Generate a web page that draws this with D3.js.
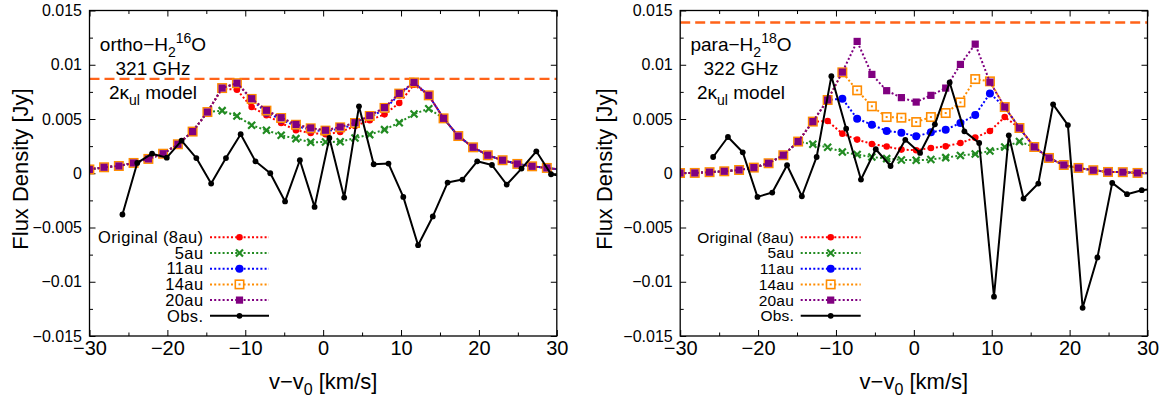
<!DOCTYPE html>
<html>
<head>
<meta charset="utf-8">
<script src="https://cdn.jsdelivr.net/npm/d3@7"></script>
<style>
  body { margin: 0; background: #fff; }
  svg { display: block; font-family: "Liberation Sans", Arial, Helvetica, sans-serif; }
</style>
</head>
<body>
<svg id="chart" width="1167" height="400"></svg>
<script>
// Velocity grid of the model spectra (km/s)
const modelVelocity = [-30.02, -28.13, -26.23, -24.34, -22.44, -20.55, -18.65, -16.76, -14.86, -12.97,
  -11.07, -9.18, -7.28, -5.39, -3.49, -1.60, 0.30, 2.19, 4.09, 5.98, 7.88, 9.77, 11.67, 13.56,
  15.46, 17.35, 19.25, 21.14, 23.04, 24.93, 26.83, 28.72, 30.62];

// Velocity grid of the observed spectra (km/s)
const obsVelocity = [-25.77, -23.87, -21.97, -20.08, -18.18, -16.28, -14.38, -12.48, -10.59, -8.69,
  -6.79, -4.89, -2.99, -1.10, 0.80, 2.70, 4.60, 6.49, 8.39, 10.29, 12.19, 14.08, 15.98, 17.88,
  19.78, 21.67, 23.57, 25.47, 27.37, 29.26, 31.16];

// ortho-H2 16O 321 GHz, model flux density (Jy)
const orthoOriginal = [0.00035, 0.00055, 0.00067, 0.00095, 0.00132, 0.00180, 0.00267, 0.00384, 0.00564, 0.00780,
  0.00770, 0.00610, 0.00534, 0.00463, 0.00396, 0.00372, 0.00359, 0.00380, 0.00435, 0.00488, 0.00543, 0.00647,
  0.00816, 0.00718, 0.00506, 0.00343, 0.00239, 0.00166, 0.00120, 0.00086, 0.00064, 0.00049, 0.00032];
const ortho5au = [0.00035, 0.00055, 0.00067, 0.00095, 0.00132, 0.00180, 0.00267, 0.00384, 0.00564, 0.00577,
  0.00527, 0.00442, 0.00396, 0.00350, 0.00319, 0.00285, 0.00288, 0.00290, 0.00325, 0.00356, 0.00402, 0.00466,
  0.00546, 0.00595, 0.00506, 0.00343, 0.00239, 0.00166, 0.00120, 0.00086, 0.00064, 0.00049, 0.00032];
const ortho11au = [0.00035, 0.00055, 0.00067, 0.00095, 0.00132, 0.00180, 0.00267, 0.00384, 0.00564, 0.00785,
  0.00830, 0.00680, 0.00560, 0.00495, 0.00435, 0.00403, 0.00384, 0.00412, 0.00452, 0.00516, 0.00590, 0.00725,
  0.00835, 0.00718, 0.00506, 0.00343, 0.00239, 0.00166, 0.00120, 0.00086, 0.00064, 0.00049, 0.00032];
const ortho14au = [0.00035, 0.00055, 0.00067, 0.00095, 0.00132, 0.00180, 0.00267, 0.00384, 0.00564, 0.00785,
  0.00830, 0.00685, 0.00577, 0.00509, 0.00447, 0.00414, 0.00393, 0.00423, 0.00463, 0.00528, 0.00602, 0.00734,
  0.00837, 0.00718, 0.00506, 0.00343, 0.00239, 0.00166, 0.00120, 0.00086, 0.00064, 0.00049, 0.00032];
const ortho20au = [0.00035, 0.00055, 0.00067, 0.00095, 0.00132, 0.00180, 0.00267, 0.00384, 0.00564, 0.00785,
  0.00830, 0.00687, 0.00580, 0.00512, 0.00450, 0.00417, 0.00396, 0.00426, 0.00466, 0.00531, 0.00605, 0.00736,
  0.00837, 0.00718, 0.00506, 0.00343, 0.00239, 0.00166, 0.00120, 0.00086, 0.00064, 0.00049, 0.00032];
const orthoObs = [-0.00380, 0.00095, 0.00180, 0.00144, 0.00300, 0.00140, -0.00095, 0.00140, 0.00360, 0.00110,
  0.00000, -0.00260, 0.00120, -0.00310, 0.00325, -0.00224, 0.00617, 0.00083, 0.00089, -0.00218, -0.00663,
  -0.00398, -0.00086, -0.00058, 0.00110, 0.00076, -0.00104, 0.00043, 0.00202, -0.00009, -0.00030];
const orthoLimit = 0.0087;

// para-H2 18O 322 GHz, model flux density (Jy)
const paraOriginal = [0.00002, 0.00003, 0.00010, 0.00018, 0.00030, 0.00052, 0.00092, 0.00166, 0.00292, 0.00476,
  0.00481, 0.00365, 0.00310, 0.00270, 0.00246, 0.00218, 0.00212, 0.00233, 0.00248, 0.00279, 0.00328, 0.00389,
  0.00518, 0.00417, 0.00242, 0.00141, 0.00076, 0.00049, 0.00028, 0.00012, 0.00010, 0.00003, 0.00002];
const para5au = [0.00002, 0.00003, 0.00010, 0.00018, 0.00030, 0.00052, 0.00092, 0.00166, 0.00292, 0.00267,
  0.00239, 0.00196, 0.00172, 0.00150, 0.00135, 0.00123, 0.00120, 0.00126, 0.00144, 0.00163, 0.00178, 0.00205,
  0.00242, 0.00292, 0.00242, 0.00141, 0.00076, 0.00049, 0.00028, 0.00012, 0.00010, 0.00003, 0.00002];
const para11au = [0.00002, 0.00003, 0.00010, 0.00018, 0.00030, 0.00052, 0.00092, 0.00166, 0.00292, 0.00476,
  0.00675, 0.00687, 0.00503, 0.00448, 0.00389, 0.00374, 0.00340, 0.00377, 0.00402, 0.00463, 0.00537, 0.00736,
  0.00610, 0.00417, 0.00242, 0.00141, 0.00076, 0.00049, 0.00028, 0.00012, 0.00010, 0.00003, 0.00002];
const para14au = [0.00002, 0.00003, 0.00010, 0.00018, 0.00030, 0.00052, 0.00092, 0.00166, 0.00292, 0.00476,
  0.00675, 0.00930, 0.00764, 0.00617, 0.00518, 0.00512, 0.00472, 0.00518, 0.00555, 0.00653, 0.00868, 0.00847,
  0.00610, 0.00417, 0.00242, 0.00141, 0.00076, 0.00049, 0.00028, 0.00012, 0.00010, 0.00003, 0.00002];
const para20au = [0.00002, 0.00003, 0.00010, 0.00018, 0.00030, 0.00052, 0.00092, 0.00166, 0.00292, 0.00476,
  0.00675, 0.00932, 0.01215, 0.00911, 0.00761, 0.00697, 0.00656, 0.00718, 0.00785, 0.01003, 0.01190, 0.00840,
  0.00610, 0.00417, 0.00242, 0.00141, 0.00076, 0.00049, 0.00028, 0.00012, 0.00010, 0.00003, 0.00002];
const paraObs = [0.00150, 0.00334, 0.00193, -0.00218, -0.00178, 0.00074, -0.00212, 0.00150, 0.00895, 0.00411,
  -0.00058, 0.00221, 0.00067, 0.00308, 0.00187, 0.00451, 0.00837, 0.00386, 0.00279, -0.01138, 0.00350,
  -0.00233, -0.00095, 0.00635, 0.00444, -0.01240, -0.00776, -0.00089, -0.00193, -0.00156, -0.00140];
const paraLimit = 0.0139;

// Axis ticks and labels
const xTicks = [-30, -20, -10, 0, 10, 20, 30];
const xTickLabels = ["\u221230", "\u221220", "\u221210", "0", "10", "20", "30"];
const xMinorTicks = [-25, -15, -5, 5, 15, 25];
const yTicks = [-0.015, -0.01, -0.005, 0, 0.005, 0.01, 0.015];
const yTickLabels = ["\u22120.015", "\u22120.01", "\u22120.005", "0", "0.005", "0.01", "0.015"];
const yMinorTicks = [-0.0125, -0.0075, -0.0025, 0.0025, 0.0075, 0.0125];
const legendLabels = ["Original (8au)", "5au", "11au", "14au", "20au", "Obs."];

const svg = d3.select("#chart");
const defs = svg.append("defs");

function drawMarker(sel, type, color) {
  if (type === "circleSmall") {
    sel.append("circle").attr("r", 3.3).attr("fill", color);
  } else if (type === "circle") {
    sel.append("circle").attr("r", 4).attr("fill", color);
  } else if (type === "cross") {
    sel.append("path").attr("d", "M-3.5,-3.5L3.5,3.5M-3.5,3.5L3.5,-3.5")
      .attr("stroke", color).attr("stroke-width", 2.2).attr("fill", "none");
  } else if (type === "openSquare") {
    sel.append("rect").attr("x", -4.2).attr("y", -4.2).attr("width", 8.4).attr("height", 8.4)
      .attr("fill", "#fff").attr("stroke", color).attr("stroke-width", 1.6);
    sel.append("rect").attr("x", -1).attr("y", -1).attr("width", 2).attr("height", 2).attr("fill", color);
  } else if (type === "square") {
    sel.append("rect").attr("x", -3.6).attr("y", -3.6).attr("width", 7.2).attr("height", 7.2).attr("fill", color);
  } else if (type === "obs") {
    sel.append("circle").attr("r", 2.9).attr("fill", color);
  }
}

function drawPanel(cfg) {
  const x = d3.scaleLinear().domain([-30, 30]).range([cfg.left, cfg.right]);
  const y = d3.scaleLinear().domain([-0.015, 0.015]).range([336, 10.5]);
  const g = svg.append("g");

  defs.append("clipPath").attr("id", cfg.id + "-clip").append("rect")
    .attr("x", cfg.left).attr("y", 10.5)
    .attr("width", cfg.right - cfg.left).attr("height", 336 - 10.5);

  // Inward ticks on all four sides
  const tickStyle = a => a.selectAll("line").attr("stroke", "#000").attr("stroke-width", 1);
  const bottom = g.append("g").attr("transform", `translate(0,336)`)
    .call(d3.axisBottom(x).tickValues(xTicks).tickSize(-6).tickPadding(5)
      .tickFormat((d, i) => xTickLabels[i]));
  bottom.select(".domain").remove();
  tickStyle(bottom);
  bottom.selectAll("text").attr("font-size", 20).attr("font-family", "Liberation Sans, Arial, sans-serif").attr("fill", "#000");
  const bottomMinor = g.append("g").attr("transform", `translate(0,336)`)
    .call(d3.axisBottom(x).tickValues(xMinorTicks).tickSize(-3.5).tickFormat(""));
  bottomMinor.select(".domain").remove(); tickStyle(bottomMinor);
  const top = g.append("g").attr("transform", `translate(0,10.5)`)
    .call(d3.axisTop(x).tickValues(xTicks).tickSize(-6).tickFormat(""));
  top.select(".domain").remove(); tickStyle(top);
  const topMinor = g.append("g").attr("transform", `translate(0,10.5)`)
    .call(d3.axisTop(x).tickValues(xMinorTicks).tickSize(-3.5).tickFormat(""));
  topMinor.select(".domain").remove(); tickStyle(topMinor);

  const left = g.append("g").attr("transform", `translate(${cfg.left},0)`)
    .call(d3.axisLeft(y).tickValues(yTicks).tickSize(-6).tickPadding(7.5)
      .tickFormat((d, i) => yTickLabels[i]));
  left.select(".domain").remove();
  tickStyle(left);
  left.selectAll("text").attr("font-size", 16).attr("font-family", "Liberation Sans, Arial, sans-serif").attr("fill", "#000");
  const leftMinor = g.append("g").attr("transform", `translate(${cfg.left},0)`)
    .call(d3.axisLeft(y).tickValues(yMinorTicks).tickSize(-3.5).tickFormat(""));
  leftMinor.select(".domain").remove(); tickStyle(leftMinor);
  const right = g.append("g").attr("transform", `translate(${cfg.right},0)`)
    .call(d3.axisRight(y).tickValues(yTicks).tickSize(-6).tickFormat(""));
  right.select(".domain").remove(); tickStyle(right);
  const rightMinor = g.append("g").attr("transform", `translate(${cfg.right},0)`)
    .call(d3.axisRight(y).tickValues(yMinorTicks).tickSize(-3.5).tickFormat(""));
  rightMinor.select(".domain").remove(); tickStyle(rightMinor);

  const plot = g.append("g").attr("clip-path", `url(#${cfg.id}-clip)`);

  // Reference flux level
  plot.append("line")
    .attr("x1", x(-30)).attr("x2", x(30))
    .attr("y1", y(cfg.limit)).attr("y2", y(cfg.limit))
    .attr("stroke", "#ff6319").attr("stroke-width", 2.4)
    .attr("stroke-dasharray", "10,5");

  const line = d3.line().x(d => x(d[0])).y(d => y(d[1]));

  cfg.series.forEach(s => {
    const pts = modelVelocity.map((v, i) => [v, s.values[i]]);
    plot.append("path").attr("d", line(pts))
      .attr("fill", "none").attr("stroke", s.color).attr("stroke-width", 2)
      .attr("stroke-dasharray", "2,2.2");
    plot.append("g").selectAll("g").data(pts).join("g")
      .attr("transform", d => `translate(${x(d[0])},${y(d[1])})`)
      .each(function () { drawMarker(d3.select(this), s.marker, s.color); });
  });

  // Observed spectrum
  const obsPts = obsVelocity.map((v, i) => [v, cfg.obs[i]]);
  plot.append("path").attr("d", line(obsPts))
    .attr("fill", "none").attr("stroke", "#000").attr("stroke-width", 2)
    .attr("stroke-linejoin", "round");
  plot.append("g").selectAll("g").data(obsPts).join("g")
    .attr("transform", d => `translate(${x(d[0])},${y(d[1])})`)
    .each(function () { drawMarker(d3.select(this), "obs", "#000"); });

  // Frame
  g.append("rect").attr("x", cfg.left).attr("y", 10.5)
    .attr("width", cfg.right - cfg.left).attr("height", 336 - 10.5)
    .attr("fill", "none").attr("stroke", "#000").attr("stroke-width", 1.3);

  // Legend
  const legendItems = cfg.series.map(s => ({ color: s.color, marker: s.marker, dotted: true }))
    .concat([{ color: "#000", marker: "obs", dotted: false }]);
  legendItems.forEach((item, i) => {
    const ly = 237.3 + i * 15.7;
    g.append("text").attr("x", cfg.legendText).attr("y", ly)
      .attr("dy", "0.35em").attr("text-anchor", "end")
      .attr("font-size", cfg.legendFont)
      .attr("letter-spacing", cfg.legendSpacing)
      .text(legendLabels[i]);
    g.append("line").attr("x1", cfg.legendLine[0]).attr("x2", cfg.legendLine[1])
      .attr("y1", ly).attr("y2", ly)
      .attr("stroke", item.color).attr("stroke-width", 2)
      .attr("stroke-dasharray", item.dotted ? "2,2.2" : null);
    const m = g.append("g")
      .attr("transform", `translate(${(cfg.legendLine[0] + cfg.legendLine[1]) / 2},${ly})`);
    drawMarker(m, item.marker, item.color);
  });

  // Line label
  const cx = cfg.labelX;
  const t1 = g.append("text").attr("x", cx).attr("y", 50.5)
    .attr("text-anchor", "middle").attr("font-size", 19);
  t1.append("tspan").text(cfg.species);
  t1.append("tspan").attr("dy", 6.5).attr("font-size", 14).text("2");
  t1.append("tspan").attr("dy", -14).attr("font-size", 14).text(cfg.isotope);
  t1.append("tspan").attr("dy", 7.5).text("O");
  g.append("text").attr("x", cx).attr("y", 75)
    .attr("text-anchor", "middle").attr("font-size", 19).text(cfg.freq);
  const t3 = g.append("text").attr("x", cx).attr("y", 99)
    .attr("text-anchor", "middle").attr("font-size", 19);
  t3.append("tspan").text("2\u03ba");
  t3.append("tspan").attr("dy", 5.5).attr("font-size", 14).text("ul");
  t3.append("tspan").attr("dy", -5.5).text(" model");

  // Axis titles
  g.append("text")
    .attr("transform", `translate(${cfg.yTitleX},169) rotate(-90)`)
    .attr("text-anchor", "middle").attr("font-size", 22).text("Flux Density [Jy]");
  const xt = g.append("text").attr("x", (cfg.left + cfg.right) / 2).attr("y", 389)
    .attr("text-anchor", "middle").attr("font-size", 22);
  xt.append("tspan").text("v\u2212v");
  xt.append("tspan").attr("dy", 6).attr("font-size", 16).text("0");
  xt.append("tspan").attr("dy", -6).text(" [km/s]");
}

const styles = {
  original: { color: "#ff0000", marker: "circleSmall" },
  au5: { color: "#228b22", marker: "cross" },
  au11: { color: "#0000ff", marker: "circle" },
  au14: { color: "#ff8c00", marker: "openSquare" },
  au20: { color: "#800080", marker: "square" }
};

drawPanel({
  id: "ortho", left: 89.5, right: 556.8, limit: orthoLimit, obs: orthoObs,
  series: [
    { values: orthoOriginal, ...styles.original },
    { values: ortho5au, ...styles.au5 },
    { values: ortho11au, ...styles.au11 },
    { values: ortho14au, ...styles.au14 },
    { values: ortho20au, ...styles.au20 }
  ],
  legendText: 203.5, legendLine: [210, 269], legendFont: 16.5, legendSpacing: 0.4,
  labelX: 153, species: "ortho\u2212H", isotope: "16", freq: "321 GHz",
  yTitleX: 27.5
});

drawPanel({
  id: "para", left: 680.2, right: 1147.5, limit: paraLimit, obs: paraObs,
  series: [
    { values: paraOriginal, ...styles.original },
    { values: para5au, ...styles.au5 },
    { values: para11au, ...styles.au11 },
    { values: para14au, ...styles.au14 },
    { values: para20au, ...styles.au20 }
  ],
  legendText: 794, legendLine: [800.7, 860.7], legendFont: 15.5, legendSpacing: 0.2,
  labelX: 741, species: "para\u2212H", isotope: "18", freq: "322 GHz",
  yTitleX: 612
});
</script>
</body>
</html>
